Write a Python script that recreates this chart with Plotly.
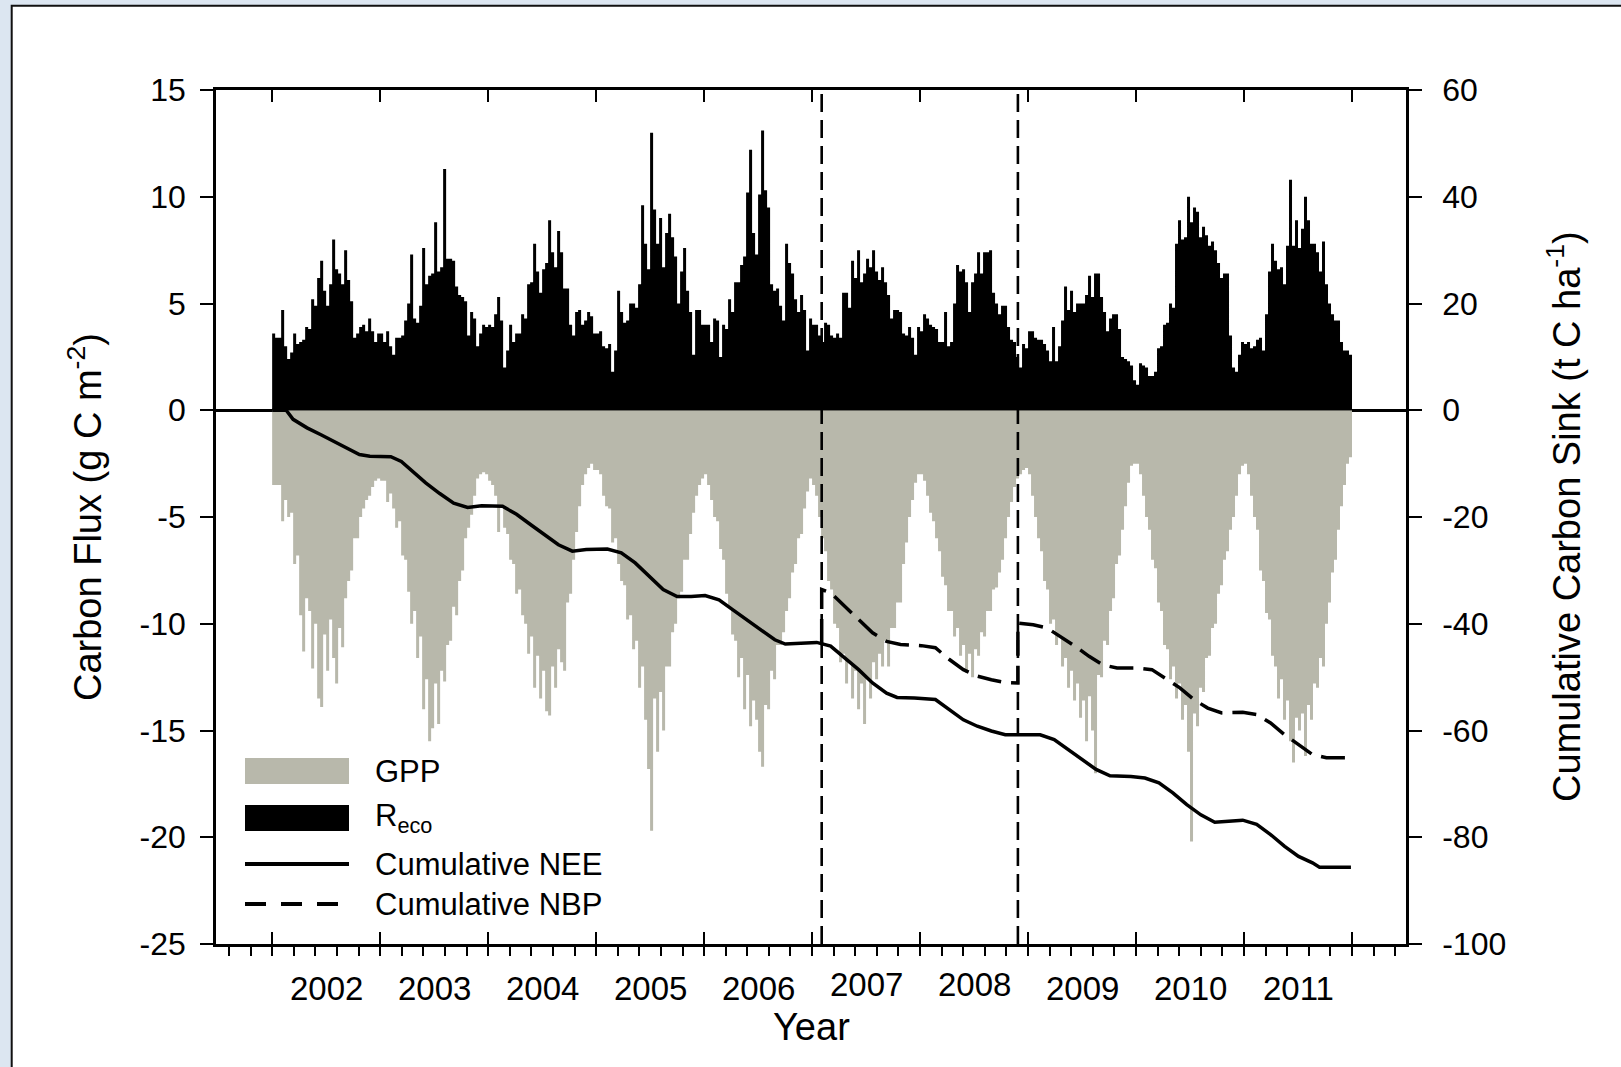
import plotly.graph_objects as go

# ---------------------------------------------------------------------------
# Data: ~10-day flux bins (36 per year), g C m-2 d-1; GPP shown as uptake (<0)
# ---------------------------------------------------------------------------
YEARS = [2002, 2003, 2004, 2005, 2006, 2007, 2008, 2009, 2010, 2011]
BINS_PER_YEAR = 36

RECO_2002 = [3.6, 3.4, 3.4, 4.7, 3.0, 2.4, 2.7, 3.6, 3.1, 3.2, 3.3, 3.9, 3.8, 5.2, 4.9, 6.2, 7.0, 5.6,
             4.9, 5.9, 8.0, 6.6, 6.4, 5.9, 7.5, 6.1, 5.1, 3.4, 3.6, 3.9, 4.0, 3.7, 4.3, 3.7, 3.2, 3.6]
RECO_2003 = [3.6, 3.2, 3.7, 3.0, 2.6, 3.4, 3.4, 3.5, 4.2, 5.0, 7.3, 4.3, 4.1, 4.9, 7.6, 5.9, 6.3, 6.4,
             8.8, 6.5, 6.7, 11.3, 7.1, 7.1, 7.0, 5.8, 5.4, 5.3, 5.1, 3.5, 4.6, 4.3, 3.0, 3.6, 4.0, 3.9]
RECO_2004 = [4.0, 3.9, 4.5, 5.3, 4.2, 2.0, 2.8, 4.0, 3.2, 3.6, 3.6, 4.5, 4.3, 5.9, 6.0, 7.8, 6.5, 5.5,
             6.6, 6.9, 8.9, 7.4, 6.7, 8.4, 7.4, 5.7, 5.7, 4.0, 3.5, 4.6, 4.7, 4.0, 4.2, 4.6, 4.4, 3.6]
RECO_2005 = [3.6, 3.7, 3.0, 2.9, 3.1, 1.8, 2.8, 5.6, 4.6, 4.1, 4.2, 5.0, 5.0, 4.8, 5.9, 9.6, 7.8, 6.6,
             13.0, 9.4, 7.8, 9.0, 6.7, 8.3, 9.2, 8.1, 7.2, 5.0, 6.5, 7.6, 5.6, 4.6, 2.6, 4.7, 4.7, 4.0]
RECO_2006 = [4.0, 4.0, 3.2, 4.3, 4.2, 2.5, 4.0, 3.8, 5.2, 4.6, 6.0, 6.0, 6.8, 7.2, 10.2, 12.2, 8.3, 7.3,
             10.1, 13.1, 10.3, 9.5, 5.9, 5.6, 5.7, 4.9, 4.2, 7.8, 6.9, 6.4, 5.2, 4.6, 5.4, 4.7, 2.8, 4.3]
RECO_2007 = [4.0, 4.0, 3.5, 3.2, 4.1, 4.0, 3.5, 3.4, 3.6, 3.4, 5.5, 5.5, 4.8, 7.0, 6.2, 7.5, 6.0, 6.4,
             7.1, 6.7, 7.5, 6.5, 6.1, 6.7, 6.0, 5.4, 4.3, 4.7, 4.7, 4.6, 3.6, 3.5, 3.9, 3.4, 2.6, 3.9]
RECO_2008 = [3.7, 4.5, 4.3, 4.0, 3.9, 3.8, 3.2, 3.2, 4.6, 3.0, 3.2, 5.0, 6.8, 6.5, 6.6, 6.0, 4.6, 6.0,
             6.4, 7.4, 6.4, 7.4, 7.4, 7.5, 5.5, 5.0, 4.5, 4.9, 4.9, 3.9, 3.3, 3.2, 2.5, 2.0, 3.1, 2.9]
RECO_2009 = [3.7, 3.7, 3.4, 3.3, 3.3, 3.1, 2.8, 2.3, 3.9, 2.3, 3.0, 4.2, 5.8, 4.7, 5.6, 4.6, 5.0, 5.0,
             5.0, 5.4, 6.3, 5.3, 6.4, 6.4, 5.3, 4.6, 3.7, 4.3, 4.5, 4.5, 3.8, 2.5, 2.4, 2.3, 2.1, 1.4]
RECO_2010 = [1.2, 2.2, 2.1, 2.0, 1.6, 1.6, 1.8, 2.9, 3.0, 4.0, 4.1, 5.0, 4.8, 7.8, 8.9, 8.0, 8.1, 10.0,
             8.8, 9.5, 9.3, 8.1, 8.6, 8.2, 7.7, 7.9, 7.5, 6.9, 6.2, 6.4, 6.4, 3.5, 2.0, 1.8, 2.6, 3.2]
RECO_2011 = [3.1, 3.2, 2.9, 3.0, 3.3, 3.4, 2.8, 4.5, 6.5, 7.8, 7.0, 6.6, 6.7, 5.9, 7.7, 10.8, 7.7, 8.9,
             7.6, 8.5, 10.0, 8.9, 7.8, 7.8, 7.4, 6.5, 7.9, 5.9, 5.0, 4.5, 4.2, 4.2, 3.2, 2.8, 2.8, 2.6]

GPP_2002 = [-3.5, -3.5, -3.5, -5.2, -4.2, -5.0, -4.8, -7.2, -6.8, -9.6, -11.3, -8.8, -9.4, -12.1, -10.0,
            -13.5, -13.9, -10.5, -12.2, -9.8, -11.6, -12.8, -10.2, -11.1, -8.8, -8.0, -7.5, -6.0, -6.0,
            -5.0, -4.6, -4.2, -4.0, -3.6, -3.3, -3.2]
GPP_2003 = [-3.3, -3.3, -4.3, -3.9, -4.6, -5.5, -5.2, -6.8, -7.0, -8.5, -10.0, -9.4, -11.6, -10.6, -14.0,
            -12.6, -15.5, -14.9, -12.8, -14.7, -12.2, -12.7, -11.0, -10.8, -9.2, -9.6, -8.0, -7.5, -6.0,
            -5.5, -4.9, -4.0, -3.2, -3.0, -2.9, -3.0]
GPP_2004 = [-3.3, -3.5, -4.0, -5.7, -4.5, -5.5, -5.8, -7.0, -7.2, -8.6, -8.4, -9.6, -10.0, -11.4, -10.6,
            -13.0, -11.5, -13.5, -12.2, -14.1, -14.3, -12.0, -13.0, -11.2, -11.8, -12.2, -9.0, -8.6, -7.0,
            -5.7, -4.5, -3.5, -3.0, -2.7, -2.5, -2.8]
GPP_2005 = [-2.8, -3.0, -4.0, -4.5, -4.6, -6.2, -6.0, -7.2, -8.0, -8.2, -9.8, -9.6, -11.2, -10.8, -13.0,
            -12.0, -14.5, -16.8, -19.7, -13.5, -16.0, -13.2, -15.0, -12.0, -12.0, -10.4, -10.0, -8.8, -8.5,
            -7.0, -7.0, -5.8, -4.8, -4.0, -3.5, -3.2]
GPP_2006 = [-3.0, -3.5, -4.2, -5.0, -5.2, -6.5, -7.0, -8.6, -9.2, -10.5, -10.8, -12.5, -11.6, -14.0, -12.4,
            -14.8, -13.6, -14.5, -16.0, -16.7, -13.8, -14.0, -12.2, -12.6, -11.0, -11.0, -10.4, -9.4, -8.8,
            -7.6, -7.2, -6.0, -5.8, -4.6, -3.8, -3.2]
GPP_2007 = [-3.5, -4.0, -5.0, -6.0, -6.6, -8.0, -8.4, -10.0, -10.2, -11.8, -11.4, -12.8, -11.8, -13.5, -12.2,
            -14.0, -12.8, -14.7, -12.6, -13.5, -11.8, -12.6, -11.4, -12.0, -10.8, -12.0, -10.2, -10.2, -9.0,
            -9.0, -7.2, -6.2, -5.0, -4.2, -3.4, -3.0]
GPP_2008 = [-3.0, -3.3, -4.0, -4.8, -5.2, -6.0, -6.6, -7.8, -8.2, -9.4, -9.4, -10.6, -10.2, -11.5, -11.0,
            -12.3, -11.4, -12.5, -11.2, -11.5, -10.4, -10.6, -9.4, -9.4, -8.4, -8.3, -7.6, -7.0, -6.0,
            -5.0, -4.3, -3.6, -3.2, -3.0, -2.8, -2.7]
GPP_2009 = [-3.0, -4.0, -5.0, -6.0, -6.6, -8.0, -8.4, -10.0, -9.8, -11.0, -10.6, -12.0, -11.6, -13.0, -12.2,
            -13.6, -12.8, -14.4, -13.6, -15.5, -13.4, -15.0, -17.0, -12.4, -12.5, -10.8, -11.0, -9.4, -8.8,
            -7.2, -6.8, -5.6, -4.5, -3.4, -2.6, -2.5]
GPP_2010 = [-2.5, -3.0, -4.0, -5.0, -5.6, -7.0, -7.4, -9.0, -9.4, -11.0, -11.2, -12.6, -12.0, -13.5, -12.8,
            -14.5, -13.8, -16.0, -20.2, -14.2, -14.8, -13.0, -13.2, -11.6, -11.5, -10.2, -10.0, -8.6, -8.2,
            -7.0, -6.6, -5.6, -5.0, -4.0, -3.0, -2.6]
GPP_2011 = [-2.5, -3.0, -4.0, -5.0, -5.6, -7.5, -8.0, -9.5, -9.8, -11.5, -12.0, -13.5, -12.6, -14.5, -13.6,
            -15.5, -16.5, -14.4, -15.0, -14.2, -16.2, -13.8, -14.5, -12.8, -13.0, -11.6, -12.0, -10.0, -9.0,
            -7.6, -7.0, -5.6, -4.5, -3.5, -2.5, -2.2]

RECO_BY_YEAR = [RECO_2002, RECO_2003, RECO_2004, RECO_2005, RECO_2006,
                RECO_2007, RECO_2008, RECO_2009, RECO_2010, RECO_2011]
GPP_BY_YEAR = [GPP_2002, GPP_2003, GPP_2004, GPP_2005, GPP_2006,
               GPP_2007, GPP_2008, GPP_2009, GPP_2010, GPP_2011]

# Cumulative NEE (t C ha-1), decimal year
NEE_T = [2002.0, 2002.13, 2002.194, 2002.323, 2002.452, 2002.582, 2002.711, 2002.808, 2002.905, 2003.099,
         2003.196, 2003.293, 2003.422, 2003.552, 2003.681, 2003.81, 2003.94, 2004.134, 2004.263, 2004.392,
         2004.521, 2004.651, 2004.78, 2004.909, 2005.104, 2005.233, 2005.362, 2005.492, 2005.621, 2005.75,
         2005.88, 2006.009, 2006.138, 2006.267, 2006.396, 2006.526, 2006.655, 2006.752, 2006.914, 2007.043,
         2007.172, 2007.302, 2007.431, 2007.56, 2007.69, 2007.787, 2007.948, 2008.142, 2008.272, 2008.401,
         2008.53, 2008.66, 2008.789, 2008.918, 2009.112, 2009.242, 2009.371, 2009.5, 2009.63, 2009.759,
         2009.953, 2010.082, 2010.212, 2010.341, 2010.47, 2010.6, 2010.729, 2010.858, 2010.988, 2011.117,
         2011.246, 2011.376, 2011.505, 2011.634, 2011.699, 2011.828, 2011.99]
NEE_CUM = [0.0, 0.0, -1.7, -3.3, -4.6, -6.0, -7.4, -8.3, -8.6, -8.7,
           -9.6, -11.4, -13.6, -15.6, -17.4, -18.2, -17.9, -18.0, -19.5, -21.4,
           -23.3, -25.2, -26.4, -26.1, -26.0, -26.7, -28.6, -31.1, -33.6, -34.9,
           -34.9, -34.7, -35.5, -37.4, -39.2, -41.1, -43.0, -43.8, -43.7, -43.5,
           -44.2, -46.4, -48.6, -51.1, -53.0, -53.8, -53.9, -54.2, -56.1, -58.0,
           -59.2, -60.1, -60.8, -60.8, -60.8, -61.7, -63.6, -65.5, -67.3, -68.5,
           -68.6, -68.9, -69.8, -71.7, -73.9, -75.8, -77.2, -77.0, -76.8, -77.6,
           -79.5, -81.7, -83.6, -84.8, -85.6, -85.6, -85.6]

# Cumulative NBP (t C ha-1), starting at the first event
NBP_T = [2007.089, 2007.089, 2007.172, 2007.302, 2007.431, 2007.56, 2007.69, 2007.819, 2008.013, 2008.142,
         2008.272, 2008.401, 2008.53, 2008.66, 2008.789, 2008.906, 2008.906, 2009.048, 2009.177, 2009.306,
         2009.436, 2009.565, 2009.694, 2009.824, 2010.018, 2010.147, 2010.276, 2010.406, 2010.535, 2010.664,
         2010.794, 2010.988, 2011.117, 2011.246, 2011.376, 2011.505, 2011.634, 2011.763, 2011.99]
NBP_CUM = [-43.6, -33.6, -34.2, -36.7, -39.2, -41.7, -43.3, -43.9, -44.1, -44.5,
           -46.7, -48.6, -49.8, -50.5, -51.0, -51.1, -39.9, -40.2, -40.8, -42.4,
           -44.2, -46.1, -47.7, -48.3, -48.3, -48.6, -50.2, -52.0, -54.2, -55.8,
           -56.7, -56.6, -57.0, -58.6, -60.8, -62.6, -64.5, -65.1, -65.1]

EVENT_YEARS = [2007.089, 2008.906]

LEFT_TICKS = [-25, -20, -15, -10, -5, 0, 5, 10, 15]
RIGHT_TICKS = [-100, -80, -60, -40, -20, 0, 20, 40, 60]
YEAR_LABELS = ["2002", "2003", "2004", "2005", "2006", "2007", "2008", "2009", "2010", "2011"]
LEGEND_LABELS = ["GPP", "R<sub>eco</sub>", "Cumulative NEE", "Cumulative NBP"]

# ---------------------------------------------------------------------------
# Styling / layout constants
# ---------------------------------------------------------------------------
W, H = 1621, 1067
M_L, M_R, M_T, M_B = 216, 215, 90, 123
PW, PH = W - M_L - M_R, H - M_T - M_B
FONT = "Liberation Sans, Arial, sans-serif"
GPP_COLOR = "#b8b8ab"
FRAME_BG = "#dce6f1"


def px_x(px):
    return (px - M_L) / PW


def px_y(py):
    return (H - M_B - py) / PH


def step_series(per_year):
    xs, ys = [], []
    for year, vals in zip(YEARS, per_year):
        for k, v in enumerate(vals):
            xs.append(year + k / BINS_PER_YEAR)
            ys.append(v)
    xs.append(YEARS[-1] + 1)
    ys.append(ys[-1])
    return xs, ys


fig = go.Figure()

gx, gy = step_series(GPP_BY_YEAR)
fig.add_trace(go.Scatter(x=gx, y=gy, mode="lines", line=dict(shape="hv", width=0, color=GPP_COLOR),
                         fill="tozeroy", fillcolor=GPP_COLOR, hoverinfo="skip", showlegend=False))
rx, ry = step_series(RECO_BY_YEAR)
fig.add_trace(go.Scatter(x=rx, y=ry, mode="lines", line=dict(shape="hv", width=0, color="black"),
                         fill="tozeroy", fillcolor="black", hoverinfo="skip", showlegend=False))

fig.add_trace(go.Scatter(x=NEE_T, y=NEE_CUM, yaxis="y2", mode="lines",
                         line=dict(color="black", width=3.5), showlegend=False, hoverinfo="skip"))
fig.add_trace(go.Scatter(x=NBP_T, y=NBP_CUM, yaxis="y2", mode="lines",
                         line=dict(color="black", width=3.5, dash="24px,10px"), showlegend=False,
                         hoverinfo="skip"))
# carrier for the top axis
fig.add_trace(go.Scatter(x=[YEARS[0]], y=[0], xaxis="x2", mode="markers",
                         marker=dict(opacity=0), showlegend=False, hoverinfo="skip"))

x_range = [2001.48, 2012.50]
axis_common = dict(showline=True, linecolor="black", linewidth=2.6, showgrid=False,
                   tickcolor="black", tickwidth=2.4)

fig.update_layout(
    width=W, height=H,
    margin=dict(l=M_L, r=M_R, t=M_T, b=M_B, pad=0),
    paper_bgcolor=FRAME_BG, plot_bgcolor="white",
    font=dict(family=FONT, color="black", size=32),
    showlegend=False,
    xaxis=dict(range=x_range, ticks="inside", tickmode="linear", tick0=2002, dtick=1, ticklen=12,
               showticklabels=False, zeroline=False,
               minor=dict(ticks="outside", tick0=2002, dtick=0.2, ticklen=9, tickwidth=2,
                          tickcolor="black", showgrid=False),
               **axis_common),
    xaxis2=dict(range=x_range, overlaying="x", side="top", ticks="inside", tickmode="linear",
                tick0=2002, dtick=1, ticklen=12, showticklabels=False, zeroline=False, **axis_common),
    yaxis=dict(range=[-25, 15], tickmode="array", tickvals=LEFT_TICKS,
               ticktext=[str(v) for v in LEFT_TICKS], ticks="outside", ticklen=13,
               ticklabelstandoff=8, zeroline=True, zerolinecolor="black", zerolinewidth=2.6,
               tickfont=dict(size=32), **axis_common),
    yaxis2=dict(range=[-100, 60], overlaying="y", side="right", tickmode="array", tickvals=RIGHT_TICKS,
                ticktext=[str(v) for v in RIGHT_TICKS], ticks="outside", ticklen=13,
                ticklabelstandoff=14, zeroline=False, tickfont=dict(size=32), **axis_common),
)

shapes = []
# page frame
shapes.append(dict(type="rect", xref="paper", yref="paper", x0=px_x(11.7), x1=px_x(1660),
                   y0=px_y(5.7), y1=px_y(1100), fillcolor="white", line=dict(color="#111111", width=2),
                   layer="below"))
# event markers
for ev in EVENT_YEARS:
    shapes.append(dict(type="line", xref="x", yref="paper", x0=ev, x1=ev, y0=0, y1=1,
                       line=dict(color="black", width=2.6, dash="18px,8px")))

# legend swatches
shapes.append(dict(type="rect", xref="paper", yref="paper", x0=px_x(245), x1=px_x(349),
                   y0=px_y(784), y1=px_y(758), fillcolor=GPP_COLOR, line=dict(width=0)))
shapes.append(dict(type="rect", xref="paper", yref="paper", x0=px_x(245), x1=px_x(349),
                   y0=px_y(831), y1=px_y(805), fillcolor="black", line=dict(width=0)))
shapes.append(dict(type="line", xref="paper", yref="paper", x0=px_x(245), x1=px_x(349),
                   y0=px_y(864), y1=px_y(864), line=dict(color="black", width=4)))
shapes.append(dict(type="line", xref="paper", yref="paper", x0=px_x(245), x1=px_x(338),
                   y0=px_y(904), y1=px_y(904), line=dict(color="black", width=4, dash="21px,15px")))
fig.update_layout(shapes=shapes)

ann = []
legend_y = [771, 818, 864, 904]
for label, ly in zip(LEGEND_LABELS, legend_y):
    ann.append(dict(text=label, xref="paper", yref="paper", x=px_x(373), y=px_y(ly),
                    xanchor="left", yanchor="middle", showarrow=False, font=dict(size=31)))

for i, label in enumerate(YEAR_LABELS):
    cy = 984.5 if label in ("2007", "2008") else 988.3
    ann.append(dict(text=label, xref="x", yref="paper", x=YEARS[i] + 0.5, y=px_y(cy),
                    xanchor="center", yanchor="middle", showarrow=False, font=dict(size=33)))

ann.append(dict(text="Year", xref="paper", yref="paper", x=px_x(811), y=px_y(1027),
                xanchor="center", yanchor="middle", showarrow=False, font=dict(size=38)))
ann.append(dict(text="Carbon Flux (g C m<sup>-2</sup>)", xref="paper", yref="paper",
                x=px_x(85), y=px_y(517), xanchor="center", yanchor="middle", textangle=-90,
                showarrow=False, font=dict(size=38)))
ann.append(dict(text="Cumulative Carbon Sink (t C ha<sup>-1</sup>)", xref="paper", yref="paper",
                x=px_x(1564), y=px_y(517), xanchor="center", yanchor="middle", textangle=-90,
                showarrow=False, font=dict(size=38)))
fig.update_layout(annotations=ann)

fig.write_html("out.html")
